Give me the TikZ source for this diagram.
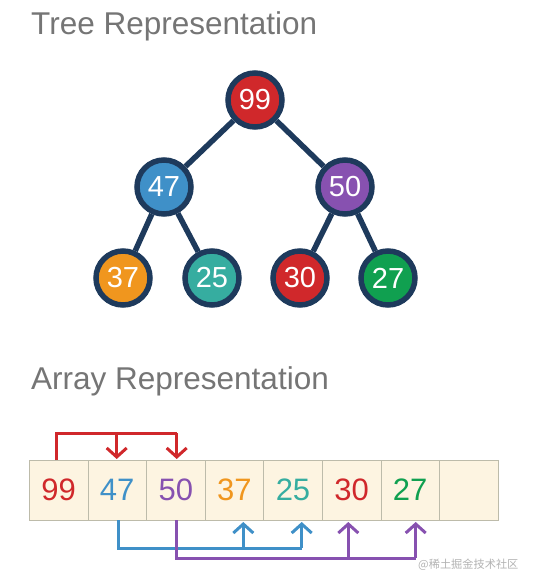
\documentclass[tikz,border=0pt]{standalone}
\usepackage{fontspec}
\setmainfont{Liberation Sans}
\newfontfamily\cjkfont{Noto Sans CJK SC}
\usetikzlibrary{arrows.meta}
\definecolor{navy}{HTML}{1E3A5C}
\definecolor{cRed}{HTML}{D0282B}
\definecolor{cBlue}{HTML}{3F90C8}
\definecolor{cPurple}{HTML}{8751B0}
\definecolor{cOrange}{HTML}{F0961E}
\definecolor{cTeal}{HTML}{36ADA0}
\definecolor{cGreen}{HTML}{10A050}
\definecolor{cellfill}{HTML}{FDF4E1}
\definecolor{cellline}{HTML}{BDBBAA}
\definecolor{titlegray}{HTML}{757575}
\tikzset{
  treenode/.style={circle, draw=navy, line width=5.5pt, minimum size=54pt, inner sep=0pt, text=white, font=\fontsize{29}{29}\selectfont},
  treeedge/.style={draw=navy, line width=5.5pt},
  cell/.style={rectangle, draw=cellline, fill=cellfill, line width=0.8pt, minimum width=58.6pt, minimum height=60pt, inner sep=0pt, font=\fontsize{31}{31}\selectfont},
  title/.style={anchor=base west, text=titlegray, inner sep=0pt, font=\fontsize{31.5}{31.5}\selectfont},
  link/.style={line width=3pt, -{Straight Barb[length=9pt,width=20pt,line width=3pt]}},
  linkplain/.style={line width=3pt}
}
\begin{document}
\begin{tikzpicture}[x=1pt,y=-1pt]
\useasboundingbox (0,0) rectangle (534,586);
\node[title] (t1) at (31,35) {Tree Representation};
\node[title] (t2) at (31,389) {Array Representation};
% tree
\node[treenode, fill=cRed] (n99) at (255,100) {99};
\node[treenode, fill=cBlue] (n47) at (164,187) {47};
\node[treenode, fill=cPurple] (n50) at (345,187) {50};
\node[treenode, fill=cOrange] (n37) at (123,278) {37};
\node[treenode, fill=cTeal] (n25) at (212,278) {25};
\node[treenode, fill=cRed] (n30) at (300,278) {30};
\node[treenode, fill=cGreen] (n27) at (388,278) {27};
\draw[treeedge] (n99) -- (n47);
\draw[treeedge] (n99) -- (n50);
\draw[treeedge] (n47) -- (n37);
\draw[treeedge] (n47) -- (n25);
\draw[treeedge] (n50) -- (n30);
\draw[treeedge] (n50) -- (n27);
% array
\node[cell, text=cRed] (a0) at (58.6,490) {99};
\node[cell, text=cBlue] (a1) at (117.2,490) {47};
\node[cell, text=cPurple] (a2) at (175.8,490) {50};
\node[cell, text=cOrange] (a3) at (234.4,490) {37};
\node[cell, text=cTeal] (a4) at (293.0,490) {25};
\node[cell, text=cRed] (a5) at (351.6,490) {30};
\node[cell, text=cGreen] (a6) at (410.2,490) {27};
\node[cell] (a7) at (468.8,490) {};
% red links
\coordinate (r0) at (56.7,433);
\coordinate (r1) at (116.7,433);
\coordinate (r2) at (176.7,433);
\draw[linkplain, cRed] (56.7,460) -- (r0) -- (r2);
\draw[link, cRed] (r1) -- (116.7,459);
\draw[link, cRed] (r2) -- (176.7,459);
% blue links
\coordinate (b0) at (118.7,548);
\coordinate (b1) at (243.3,548);
\coordinate (b2) at (301.7,548);
\draw[linkplain, cBlue] (118.7,520) -- (b0) -- (b2);
\draw[link, cBlue] (b1) -- (243.3,522);
\draw[link, cBlue] (b2) -- (301.7,522);
% purple links
\coordinate (p0) at (176.7,558);
\coordinate (p1) at (348.3,558);
\coordinate (p2) at (415.7,558);
\draw[linkplain, cPurple] (176.7,520) -- (p0) -- (p2);
\draw[link, cPurple] (p1) -- (348.3,522);
\draw[link, cPurple] (p2) -- (415.7,522);
% watermark
\node[anchor=west, inner sep=0pt, text=black!30, font=\cjkfont\fontsize{11.2}{11.2}\selectfont] (wm) at (418,565) {@稀土掘金技术社区};
\end{tikzpicture}
\end{document}
